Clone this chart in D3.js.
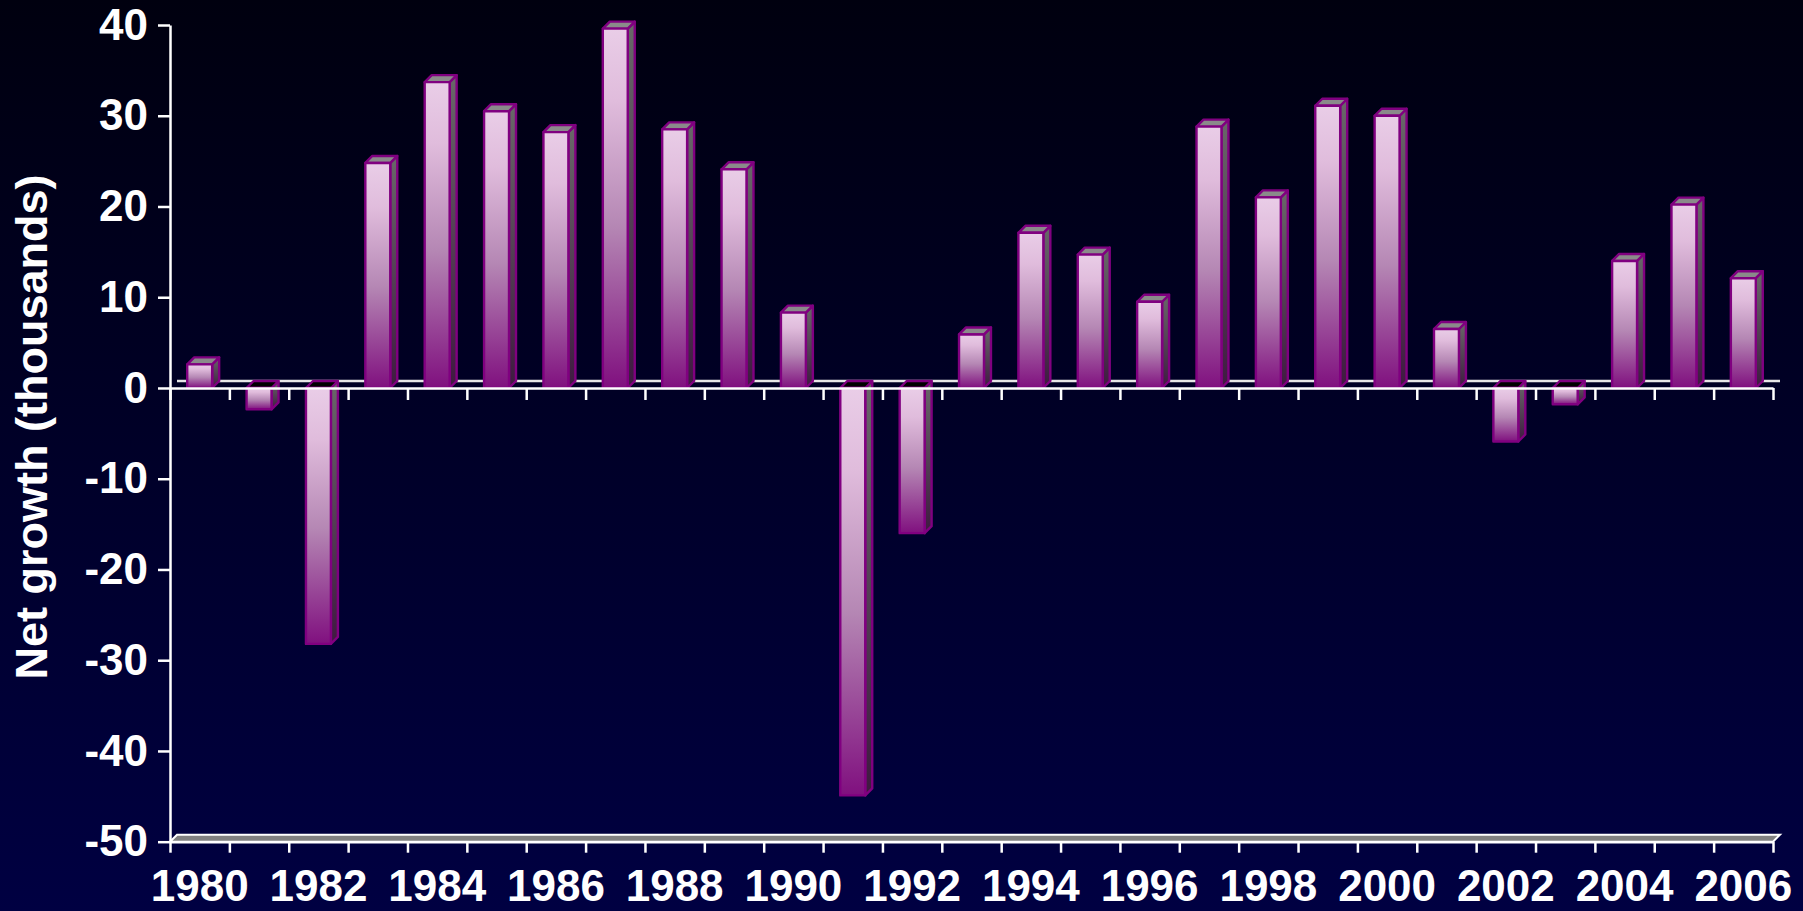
<!DOCTYPE html>
<html>
<head>
<meta charset="utf-8">
<script src="https://cdn.jsdelivr.net/npm/d3@7"></script>
<style>
  body { margin: 0; background: #000020; }
  text { font-family: "Liberation Sans", Arial, sans-serif; font-weight: bold; }
</style>
</head>
<body>
<script>
  // data
  const years = [1980, 1981, 1982, 1983, 1984, 1985, 1986, 1987, 1988, 1989,
                 1990, 1991, 1992, 1993, 1994, 1995, 1996, 1997, 1998, 1999,
                 2000, 2001, 2002, 2003, 2004, 2005, 2006];
  const growth = [2.6, -2.35, -28.2, 24.8, 33.7, 30.5, 28.2, 39.6, 28.5, 24.1,
                  8.3, -44.9, -16.0, 5.9, 17.1, 14.7, 9.5, 28.8, 21.0, 31.1,
                  30.0, 6.5, -5.9, -1.8, 14.0, 20.2, 12.1];
  const yTicks = [-50, -40, -30, -20, -10, 0, 10, 20, 30, 40];
  const xLabels = [1980, 1982, 1984, 1986, 1988, 1990, 1992, 1994, 1996, 1998,
                   2000, 2002, 2004, 2006];

  const w = 1803;
  const h = 911;
  const plotLeft = 170, plotRight = 1773, plotTop = 25, plotBottom = 841.7;
  const dx = 7, dy = -7;   // fake 3d depth

  const data = years.map((yr, i) => ({ year: yr, value: growth[i] }));

  const xScale = d3.scaleBand()
                   .domain(years)
                   .range([plotLeft, plotRight]);

  const edge = d3.scaleLinear()
                 .domain([0, years.length])
                 .range([plotLeft, plotRight]);

  const yScale = d3.scaleLinear()
                   .domain([-50, 40])
                   .range([plotBottom, plotTop]);

  const svg = d3.select("body")
                .append("svg")
                .attr("width", w)
                .attr("height", h)
                .style("display", "block");

  const defs = svg.append("defs");

  const bg = defs.append("linearGradient")
                 .attr("id", "bg")
                 .attr("x1", 0).attr("y1", 0).attr("x2", 0).attr("y2", 1);
  bg.append("stop").attr("offset", "0%").attr("stop-color", "#00000f");
  bg.append("stop").attr("offset", "100%").attr("stop-color", "#000042");

  const front = defs.append("linearGradient")
                    .attr("id", "front")
                    .attr("x1", 0).attr("y1", 0).attr("x2", 0).attr("y2", 1);
  front.append("stop").attr("offset", "0%").attr("stop-color", "#e9cde7");
  front.append("stop").attr("offset", "20%").attr("stop-color", "#e0bcdc");
  front.append("stop").attr("offset", "55%").attr("stop-color", "#b587b4");
  front.append("stop").attr("offset", "100%").attr("stop-color", "#80107f");

  const side = defs.append("linearGradient")
                   .attr("id", "side")
                   .attr("x1", 0).attr("y1", 0).attr("x2", 0).attr("y2", 1);
  side.append("stop").attr("offset", "0%").attr("stop-color", "#686868");
  side.append("stop").attr("offset", "100%").attr("stop-color", "#3e1a40");

  svg.append("rect")
     .attr("width", w)
     .attr("height", h)
     .attr("fill", "url(#bg)");

  // back edge of the zero plane
  svg.append("line")
     .attr("x1", plotLeft + dx).attr("x2", plotRight + dx)
     .attr("y1", yScale(0) + dy).attr("y2", yScale(0) + dy)
     .attr("stroke", "#e6e6e6")
     .attr("stroke-width", 2.5);

  // floor
  const fy = yScale(-50);
  svg.append("polygon")
     .attr("points", [[plotLeft, fy], [plotLeft + dx, fy + dy], [plotRight + dx, fy + dy], [plotRight, fy]].join(" "))
     .attr("fill", "#808080")
     .attr("stroke", "#fff")
     .attr("stroke-width", 2);

  // bars
  const fw = xScale.bandwidth() * 0.42;
  const bars = svg.selectAll("g.bar")
                  .data(data)
                  .enter()
                  .append("g")
                  .attr("class", "bar")
                  .attr("stroke", "#800080")
                  .attr("stroke-width", 2.4)
                  .attr("stroke-linejoin", "round");

  const bx = (d) => xScale(d.year) + (xScale.bandwidth() - fw) / 2;
  const by0 = (d) => yScale(Math.max(d.value, 0));
  const by1 = (d) => yScale(Math.min(d.value, 0));

  bars.append("polygon")
      .attr("fill", "url(#side)")
      .attr("points", (d) => [[bx(d) + fw, by0(d)], [bx(d) + fw + dx, by0(d) + dy],
                              [bx(d) + fw + dx, by1(d) + dy], [bx(d) + fw, by1(d)]].join(" "));

  bars.append("polygon")
      .attr("fill", (d) => d.value >= 0 ? "#8a8a8a" : "#000")
      .attr("points", (d) => [[bx(d), by0(d)], [bx(d) + dx, by0(d) + dy],
                              [bx(d) + fw + dx, by0(d) + dy], [bx(d) + fw, by0(d)]].join(" "));

  bars.append("rect")
      .attr("fill", "url(#front)")
      .attr("x", (d) => bx(d))
      .attr("y", (d) => by0(d))
      .attr("width", fw)
      .attr("height", (d) => by1(d) - by0(d));

  // zero line with ticks at category edges
  const zeroAxis = svg.append("g")
                      .attr("transform", `translate(0,${yScale(0)})`)
                      .call(d3.axisBottom(edge)
                              .tickValues(d3.range(0, years.length + 1))
                              .tickSize(12)
                              .tickSizeOuter(0)
                              .tickFormat(""));

  const bottomAxis = svg.append("g")
                        .attr("transform", `translate(0,${yScale(-50)})`)
                        .call(d3.axisBottom(edge)
                                .tickValues(d3.range(0, years.length + 1))
                                .tickSize(11)
                                .tickSizeOuter(0)
                                .tickFormat(""));

  const labelAxis = svg.append("g")
                       .attr("transform", `translate(0,${yScale(-50)})`)
                       .call(d3.axisBottom(xScale)
                               .tickValues(xLabels)
                               .tickSize(0)
                               .tickPadding(28));
  labelAxis.select(".domain").remove();

  const yAxis = svg.append("g")
                   .attr("transform", `translate(${plotLeft},0)`)
                   .call(d3.axisLeft(yScale)
                           .tickValues(yTicks)
                           .tickSize(12)
                           .tickSizeOuter(0)
                           .tickPadding(10)
                           .tickFormat((d) => String(d)));   // plain hyphen, like the original

  [zeroAxis, bottomAxis, labelAxis, yAxis].forEach((g) => {
    g.selectAll("path, line").attr("stroke", "#fff").attr("stroke-width", 2.5);
    g.selectAll("text")
     .attr("fill", "#fff")
     .style("font-size", "44px")
     .style("font-family", "'Liberation Sans', Arial, sans-serif")
     .style("font-weight", "bold");
  });

  svg.append("text")
     .attr("transform", "translate(47,427) rotate(-90)")
     .attr("text-anchor", "middle")
     .attr("fill", "#fff")
     .style("font-size", "45px")
     .text("Net growth (thousands)");
</script>
</body>
</html>
